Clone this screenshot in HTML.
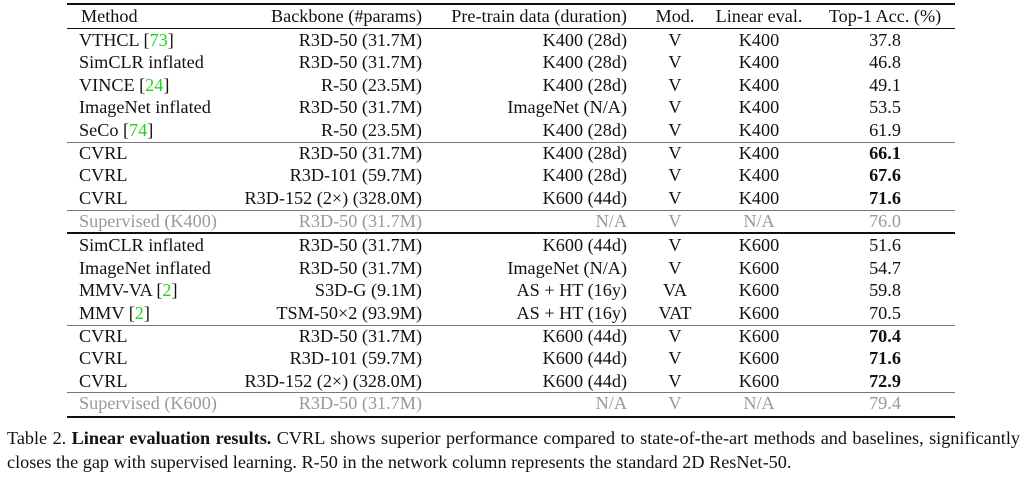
<!DOCTYPE html>
<html><head><meta charset="utf-8"><style>
body{margin:0;width:1024px;height:481px;background:#fff;position:relative;overflow:hidden;font-family:"Liberation Serif",serif;font-size:18.2px;color:#111}
.r{position:absolute;left:0;width:1024px;height:20px;line-height:20px}
.r span{position:absolute;white-space:nowrap}
.m{left:79px}
.b{right:602px}
.p{right:397px}
.o{left:675px;transform:translateX(-50%)}
.l{left:759px;transform:translateX(-50%)}
.t{left:885px;transform:translateX(-50%)}
.g{color:#999}
.c{color:#1ed41e}
b{font-weight:bold}
.h{position:absolute;left:67px;width:888px;background:#111}
.cap{position:absolute;left:7px;width:1013px;font-size:18.2px;line-height:24px;white-space:nowrap}
</style></head><body>
<div class="h" style="top:3px;height:2px"></div>
<div class="h" style="top:28px;height:1px"></div>
<div class="h" style="top:142px;height:1px;background:#777"></div>
<div class="h" style="top:210px;height:1px;background:#777"></div>
<div class="h" style="top:232px;height:2px"></div>
<div class="h" style="top:325px;height:1px;background:#777"></div>
<div class="h" style="top:392px;height:1px;background:#777"></div>
<div class="h" style="top:416px;height:2px"></div>

<div class="r" style="top:6px"><span class="m" style="left:81px">Method</span><span class="b">Backbone (#params)</span><span class="p">Pre-train data (duration)</span><span class="o">Mod.</span><span class="l">Linear eval.</span><span class="t">Top-1 Acc. (%)</span></div>

<div class="r" style="top:30px"><span class="m">VTHCL [<span class="c" style="position:static">73</span>]</span><span class="b">R3D-50 (31.7M)</span><span class="p">K400 (28d)</span><span class="o">V</span><span class="l">K400</span><span class="t">37.8</span></div>
<div class="r" style="top:52px"><span class="m">SimCLR inflated</span><span class="b">R3D-50 (31.7M)</span><span class="p">K400 (28d)</span><span class="o">V</span><span class="l">K400</span><span class="t">46.8</span></div>
<div class="r" style="top:75px"><span class="m">VINCE [<span class="c" style="position:static">24</span>]</span><span class="b">R-50 (23.5M)</span><span class="p">K400 (28d)</span><span class="o">V</span><span class="l">K400</span><span class="t">49.1</span></div>
<div class="r" style="top:97px"><span class="m">ImageNet inflated</span><span class="b">R3D-50 (31.7M)</span><span class="p">ImageNet (N/A)</span><span class="o">V</span><span class="l">K400</span><span class="t">53.5</span></div>
<div class="r" style="top:120px"><span class="m">SeCo [<span class="c" style="position:static">74</span>]</span><span class="b">R-50 (23.5M)</span><span class="p">K400 (28d)</span><span class="o">V</span><span class="l">K400</span><span class="t">61.9</span></div>

<div class="r" style="top:143px"><span class="m">CVRL</span><span class="b">R3D-50 (31.7M)</span><span class="p">K400 (28d)</span><span class="o">V</span><span class="l">K400</span><span class="t"><b>66.1</b></span></div>
<div class="r" style="top:165px"><span class="m">CVRL</span><span class="b">R3D-101 (59.7M)</span><span class="p">K400 (28d)</span><span class="o">V</span><span class="l">K400</span><span class="t"><b>67.6</b></span></div>
<div class="r" style="top:188px"><span class="m">CVRL</span><span class="b">R3D-152 (2×) (328.0M)</span><span class="p">K600 (44d)</span><span class="o">V</span><span class="l">K400</span><span class="t"><b>71.6</b></span></div>
<div class="r g" style="top:211px"><span class="m">Supervised (K400)</span><span class="b">R3D-50 (31.7M)</span><span class="p">N/A</span><span class="o">V</span><span class="l">N/A</span><span class="t">76.0</span></div>

<div class="r" style="top:235px"><span class="m">SimCLR inflated</span><span class="b">R3D-50 (31.7M)</span><span class="p">K600 (44d)</span><span class="o">V</span><span class="l">K600</span><span class="t">51.6</span></div>
<div class="r" style="top:258px"><span class="m">ImageNet inflated</span><span class="b">R3D-50 (31.7M)</span><span class="p">ImageNet (N/A)</span><span class="o">V</span><span class="l">K600</span><span class="t">54.7</span></div>
<div class="r" style="top:280px"><span class="m">MMV-VA [<span class="c" style="position:static">2</span>]</span><span class="b">S3D-G (9.1M)</span><span class="p">AS + HT (16y)</span><span class="o">VA</span><span class="l">K600</span><span class="t">59.8</span></div>
<div class="r" style="top:303px"><span class="m">MMV [<span class="c" style="position:static">2</span>]</span><span class="b">TSM-50×2 (93.9M)</span><span class="p">AS + HT (16y)</span><span class="o">VAT</span><span class="l">K600</span><span class="t">70.5</span></div>

<div class="r" style="top:326px"><span class="m">CVRL</span><span class="b">R3D-50 (31.7M)</span><span class="p">K600 (44d)</span><span class="o">V</span><span class="l">K600</span><span class="t"><b>70.4</b></span></div>
<div class="r" style="top:348px"><span class="m">CVRL</span><span class="b">R3D-101 (59.7M)</span><span class="p">K600 (44d)</span><span class="o">V</span><span class="l">K600</span><span class="t"><b>71.6</b></span></div>
<div class="r" style="top:371px"><span class="m">CVRL</span><span class="b">R3D-152 (2×) (328.0M)</span><span class="p">K600 (44d)</span><span class="o">V</span><span class="l">K600</span><span class="t"><b>72.9</b></span></div>
<div class="r g" style="top:393px"><span class="m">Supervised (K600)</span><span class="b">R3D-50 (31.7M)</span><span class="p">N/A</span><span class="o">V</span><span class="l">N/A</span><span class="t">79.4</span></div>

<div class="cap" style="top:426px;white-space:normal;text-align:justify;text-align-last:justify">Table 2. <b>Linear evaluation results.</b> CVRL shows superior performance compared to state-of-the-art methods and baselines, significantly</div>
<div class="cap" style="top:450px">closes the gap with supervised learning. R-50 in the network column represents the standard 2D ResNet-50.</div>
</body></html>
